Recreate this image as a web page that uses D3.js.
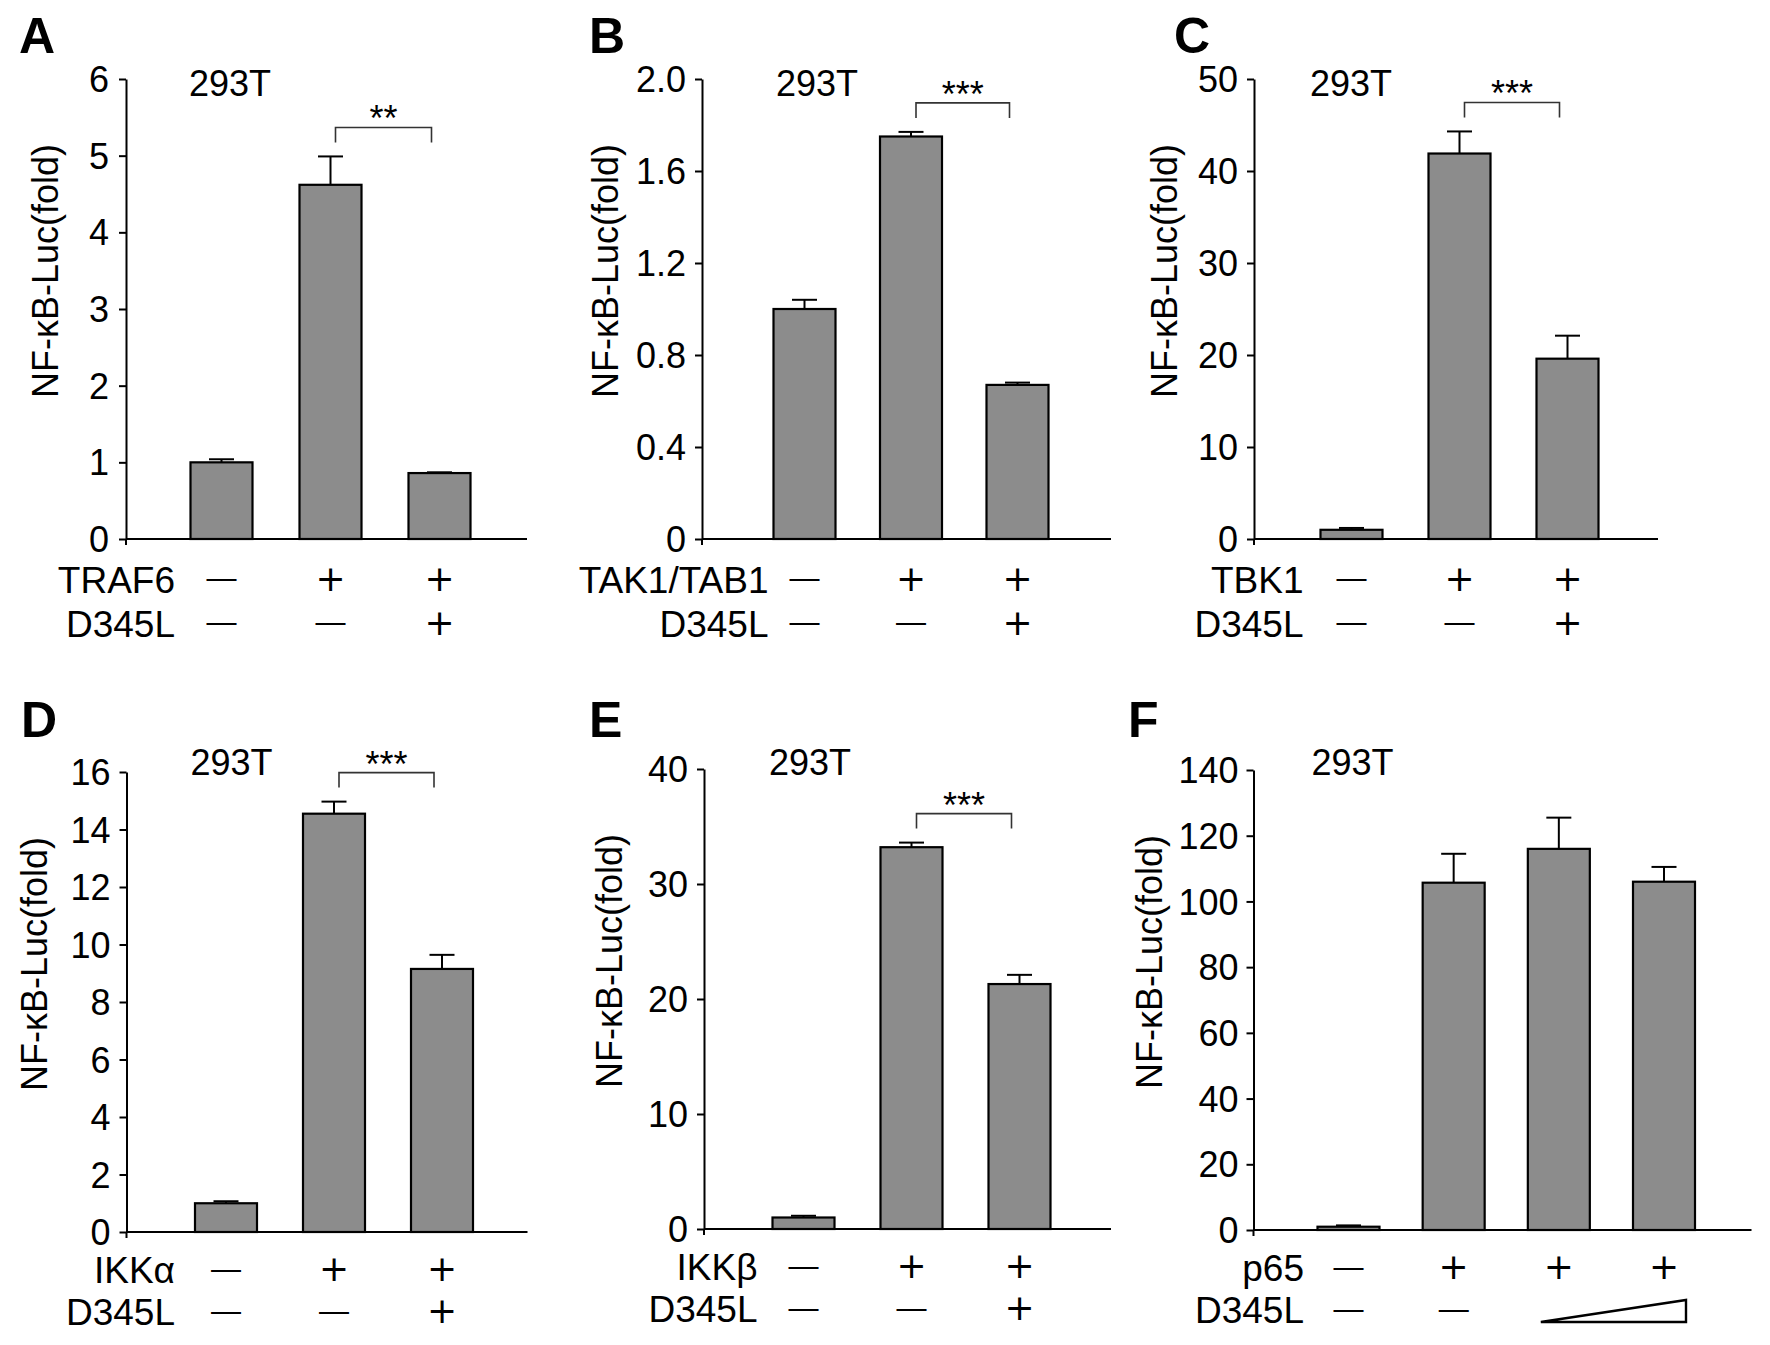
<!DOCTYPE html>
<html><head><meta charset="utf-8">
<script src="https://cdn.jsdelivr.net/npm/d3@7"></script>
<style>
html,body{margin:0;padding:0;background:#fff;}
svg{display:block;}
text{font-family:"Liberation Sans", Arial, Helvetica, sans-serif; fill:#000;}
text.sym{font-family:"DejaVu Sans", sans-serif;}
</style></head><body>
<svg id="chart" width="1770" height="1345"></svg>
<script>
// ---------------- data ----------------
const panelLetters = ["A", "B", "C", "D", "E", "F"];
const cellLine = "293T";
const yAxisTitle = "NF-κB-Luc(fold)";
const factorLabels = ["TRAF6", "TAK1/TAB1", "TBK1", "IKKα", "IKKβ", "p65"];
const inhibitorLabel = "D345L";

const valuesA = [1.00, 4.62, 0.86];
const errorsA = [0.04, 0.37, 0.01];
const valuesB = [1.00, 1.75, 0.67];
const errorsB = [0.04, 0.02, 0.01];
const valuesC = [1.0, 41.9, 19.6];
const errorsC = [0.2, 2.4, 2.5];
const valuesD = [1.0, 14.55, 9.15];
const errorsD = [0.07, 0.42, 0.49];
const valuesE = [1.0, 33.2, 21.3];
const errorsE = [0.15, 0.4, 0.8];
const valuesF = [1.0, 105.7, 116.0, 106.0];
const errorsF = [0.4, 8.8, 9.5, 4.5];

const yMaxes = [6, 2.0, 50, 16, 40, 140];
const ticksA = [0, 1, 2, 3, 4, 5, 6];
const ticksB = [0, 0.4, 0.8, 1.2, 1.6, 2.0];
const tickLabelsB = ["0", "0.4", "0.8", "1.2", "1.6", "2.0"];
const ticksC = [0, 10, 20, 30, 40, 50];
const ticksD = [0, 2, 4, 6, 8, 10, 12, 14, 16];
const ticksE = [0, 10, 20, 30, 40];
const ticksF = [0, 20, 40, 60, 80, 100, 120, 140];

const factorSigns3 = ["—", "+", "+"];
const inhibitorSigns3 = ["—", "—", "+"];
const factorSignsF = ["—", "+", "+", "+"];
const inhibitorSignsF = ["—", "—"];
const inhibitorRampF = [2, 3];

const sigStars = ["**", "***", "***", "***", "***", null];
const sigPairs = [[1, 2], [1, 2], [1, 2], [1, 2], [1, 2], null];

// ---------------- panels assembled from data ----------------
const panels = [
  {values: valuesA, errors: errorsA, ticks: ticksA, tickLabels: ticksA.map(String), f1: factorSigns3, f2: inhibitorSigns3},
  {values: valuesB, errors: errorsB, ticks: ticksB, tickLabels: tickLabelsB, f1: factorSigns3, f2: inhibitorSigns3},
  {values: valuesC, errors: errorsC, ticks: ticksC, tickLabels: ticksC.map(String), f1: factorSigns3, f2: inhibitorSigns3},
  {values: valuesD, errors: errorsD, ticks: ticksD, tickLabels: ticksD.map(String), f1: factorSigns3, f2: inhibitorSigns3},
  {values: valuesE, errors: errorsE, ticks: ticksE, tickLabels: ticksE.map(String), f1: factorSigns3, f2: inhibitorSigns3},
  {values: valuesF, errors: errorsF, ticks: ticksF, tickLabels: ticksF.map(String), f1: factorSignsF, f2: inhibitorSignsF, ramp: inhibitorRampF}
];

// ---------------- layout ----------------
const layout = [
  {ax: 126,    top: 79,  len: 401, first: 95.5,  last: 313.5, letter: [19, 53],   title: [63, 96],  ylab: -81,    rowR: -46.5, pad: 10, rows: [40.5, 84.5]},
  {ax: 702,    top: 79,  len: 409, first: 102.5, last: 315.5, letter: [589, 53],  title: [74, 96],  ylab: -97,    rowR: -36,   pad: 9,  rows: [40.5, 84.5]},
  {ax: 1254,   top: 79,  len: 404, first: 97.5,  last: 313.5, letter: [1174, 53], title: [56, 96],  ylab: -90,    rowR: -48,   pad: 9,  rows: [40.5, 84.5]},
  {ax: 126.5,  top: 772, len: 401, first: 99.5,  last: 315.5, letter: [21, 737],  title: [64, 775], ylab: -92,    rowR: -51,   pad: 9,  rows: [38, 80]},
  {ax: 704,    top: 769, len: 407, first: 99.5,  last: 315.5, letter: [589, 737], title: [65, 775], ylab: -95,    rowR: -46,   pad: 9,  rows: [38, 80]},
  {ax: 1253.5, top: 770, len: 498, first: 95,    last: 410.5, letter: [1128, 737],title: [58, 775], ylab: -104.5, rowR: -44.5, pad: 8,  rows: [38, 80]}
];
const plotH = 460;
const barW = 62;
const tickFont = 36;
const textFont = 36;

const svg = d3.select("#chart");

panels.forEach((p, k) => {
  const L = layout[k];
  const g = svg.append("g");
  const y0 = L.top + plotH;
  const y = d3.scaleLinear().domain([0, yMaxes[k]]).range([y0, L.top]);
  const n = p.values.length;
  const x = d3.scaleLinear().domain([0, n - 1]).range([L.ax + L.first, L.ax + L.last]);

  // panel letter
  g.append("text").attr("x", L.letter[0]).attr("y", L.letter[1])
    .attr("font-size", 50).attr("font-weight", "bold").text(panelLetters[k]);

  // cell line title
  g.append("text").attr("x", L.ax + L.title[0]).attr("y", L.title[1])
    .attr("font-size", textFont).text(cellLine);

  // y axis
  const axis = d3.axisLeft(y).tickValues(p.ticks)
    .tickFormat((d, i) => p.tickLabels[i]).tickSize(7).tickSizeOuter(0).tickPadding(L.pad);
  const ag = g.append("g").attr("transform", `translate(${L.ax},0)`).call(axis);
  ag.attr("font-size", null).attr("font-family", null);
  ag.select(".domain").attr("stroke", "#000").attr("stroke-width", 2);
  ag.selectAll(".tick line").attr("stroke", "#000").attr("stroke-width", 2);
  ag.selectAll(".tick text").attr("font-size", tickFont).attr("fill", "#000").attr("dy", "0.35em");
  // small stub below origin
  g.append("line").attr("x1", L.ax).attr("x2", L.ax).attr("y1", y0).attr("y2", y0 + 6)
    .attr("stroke", "#000").attr("stroke-width", 2);

  // y axis title
  g.append("text")
    .attr("transform", `translate(${L.ax + L.ylab},${L.top + 192}) rotate(-90)`)
    .attr("text-anchor", "middle").attr("dy", "0.35em")
    .attr("font-size", textFont).text(yAxisTitle);

  // bars
  g.selectAll("rect.bar").data(p.values).enter().append("rect")
    .attr("class", "bar")
    .attr("x", (d, i) => x(i) - barW / 2)
    .attr("y", d => y(d))
    .attr("width", barW)
    .attr("height", d => y0 - y(d))
    .attr("fill", "#8c8c8c").attr("stroke", "#000").attr("stroke-width", 2.2);

  // error bars (upper only)
  p.values.forEach((v, i) => {
    const e = p.errors[i];
    g.append("line").attr("x1", x(i)).attr("x2", x(i)).attr("y1", y(v)).attr("y2", y(v + e))
      .attr("stroke", "#000").attr("stroke-width", 2);
    g.append("line").attr("x1", x(i) - 12.5).attr("x2", x(i) + 12.5).attr("y1", y(v + e)).attr("y2", y(v + e))
      .attr("stroke", "#000").attr("stroke-width", 2);
  });

  // x axis line
  g.append("line").attr("x1", L.ax).attr("x2", L.ax + L.len).attr("y1", y0).attr("y2", y0)
    .attr("stroke", "#000").attr("stroke-width", 2);

  // significance bracket
  if (sigPairs[k]) {
    const [a, b] = sigPairs[k];
    const yb = y(Math.max(p.values[a] + p.errors[a], p.values[b] + p.errors[b])) - 29;
    const x1 = x(a) + 5, x2 = x(b) - 8;
    g.append("path").attr("d", `M${x1},${yb + 15}V${yb}H${x2}V${yb + 15}`)
      .attr("fill", "none").attr("stroke", "#333").attr("stroke-width", 1.6);
    g.append("text").attr("x", (x1 + x2) / 2).attr("y", yb + 4).attr("text-anchor", "middle")
      .attr("font-size", 36).text(sigStars[k]);
  }

  // treatment rows
  const r1 = y0 + L.rows[0], r2 = y0 + L.rows[1];
  const labelX = L.ax + L.first + L.rowR;
  g.append("text").attr("x", labelX).attr("y", r1 + 13).attr("text-anchor", "end")
    .attr("font-size", textFont + 1).text(factorLabels[k]);
  g.append("text").attr("x", labelX).attr("y", r2 + 13).attr("text-anchor", "end")
    .attr("font-size", textFont + 1).text(inhibitorLabel);

  const sign = (s, i, ry) => {
    if (s === "+") {
      g.append("text").attr("class", "sym").attr("x", x(i)).attr("y", ry + 11.3).attr("text-anchor", "middle")
        .style("font-family", "'DejaVu Sans', sans-serif")
        .attr("font-size", 36).text("+");
    } else {
      g.append("text").attr("x", x(i)).attr("y", ry + 8.5).attr("text-anchor", "middle")
        .attr("font-size", 30).text("—");
    }
  };
  p.f1.forEach((s, i) => sign(s, i, r1));
  p.f2.forEach((s, i) => sign(s, i, r2));

  if (p.ramp) {
    const xl = x(p.ramp[0]) - 18, xr = x(p.ramp[1]) + 22;
    const yb = r2 + 12, yt = r2 - 10;
    g.append("path").attr("d", `M${xl},${yb}L${xr},${yt}L${xr},${yb}Z`)
      .attr("fill", "#fff").attr("stroke", "#000").attr("stroke-width", 2.4).attr("stroke-linejoin", "miter");
  }
});
</script>
</body></html>
